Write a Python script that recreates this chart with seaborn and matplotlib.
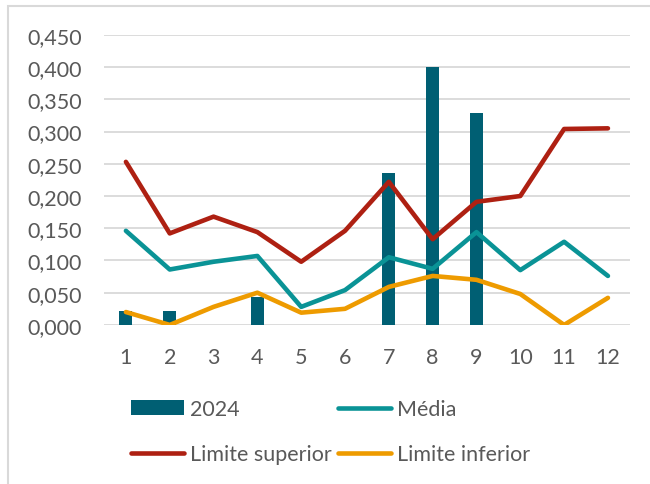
import matplotlib
matplotlib.use("Agg")
import matplotlib.pyplot as plt
import matplotlib.ticker as mticker
from matplotlib.patches import Rectangle
import seaborn as sns

# dados
meses = [1, 2, 3, 4, 5, 6, 7, 8, 9, 10, 11, 12]
valores_2024 = [0.022, 0.022, 0.0, 0.044, 0.0, 0.0, 0.236, 0.400, 0.329, 0.0, 0.0, 0.0]
media = [0.146, 0.086, 0.098, 0.107, 0.028, 0.054, 0.105, 0.087, 0.144, 0.085, 0.129, 0.076]
lim_sup = [0.253, 0.142, 0.168, 0.144, 0.098, 0.146, 0.222, 0.133, 0.191, 0.200, 0.304, 0.305]
lim_inf = [0.020, 0.000, 0.028, 0.050, 0.019, 0.025, 0.059, 0.076, 0.070, 0.048, 0.000, 0.042]

sns.set_theme(style="white")
plt.rcParams['font.family'] = ['Lato', 'DejaVu Sans']
cinza = '#595959'
fs = 15.5

fig = plt.figure(figsize=(6.5, 4.85), dpi=100)
ax = fig.add_axes([0.16, 0.328, 0.809, 0.598])

# moldura do gráfico (recortada)
fig.add_artist(Rectangle((8 / 650, -0.05), 1.2, 1 - 7 / 485 + 0.05, transform=fig.transFigure,
                         fill=False, edgecolor='#d9d9d9', linewidth=1.5))

sns.barplot(x=meses, y=valores_2024, native_scale=True, width=0.3, color='#005f73',
            saturation=1, linewidth=0, ax=ax, label='2024', zorder=2)
sns.lineplot(x=meses, y=media, color='#0a9396', linewidth=3.3, ax=ax, label='Média',
             solid_capstyle='round', zorder=3)
sns.lineplot(x=meses, y=lim_sup, color='#ae2012', linewidth=3.3, ax=ax, label='Limite superior',
             solid_capstyle='round', zorder=3)
sns.lineplot(x=meses, y=lim_inf, color='#ee9b00', linewidth=3.3, ax=ax, label='Limite inferior',
             solid_capstyle='round', zorder=3)

ax.set_ylim(0, 0.45)
ax.set_xlim(0.5, 12.5)
ax.set_yticks([i * 0.05 for i in range(10)])
ax.yaxis.set_major_formatter(mticker.FuncFormatter(lambda v, p: f"{v:.3f}".replace('.', ',')))
ax.set_xticks(meses)
ax.set_xticklabels([str(m) for m in meses])
ax.grid(axis='y', color='#d9d9d9', linewidth=1.3)
ax.set_axisbelow(True)
for s in ax.spines.values():
    s.set_visible(False)
ax.tick_params(axis='y', length=0, pad=16, labelsize=fs, labelcolor=cinza)
ax.tick_params(axis='x', length=0, pad=16, labelsize=fs, labelcolor=cinza)
ax.set_xlabel('')
ax.set_ylabel('')

handles, labels = ax.get_legend_handles_labels()
if ax.legend_:
    ax.legend_.remove()
# ncol=2 preenche por coluna
ordem = ['2024', 'Limite superior', 'Média', 'Limite inferior']
hmap = dict(zip(labels, handles))
fig.legend([hmap[l] for l in ordem], ordem, loc='upper left', bbox_to_anchor=(0.188, 0.192),
           ncol=2, frameon=False, fontsize=fs, labelcolor=cinza, handlelength=2.45,
           handletextpad=0.3, columnspacing=0.3, labelspacing=1.15, borderaxespad=0)

fig.savefig("out.png", dpi=100)
